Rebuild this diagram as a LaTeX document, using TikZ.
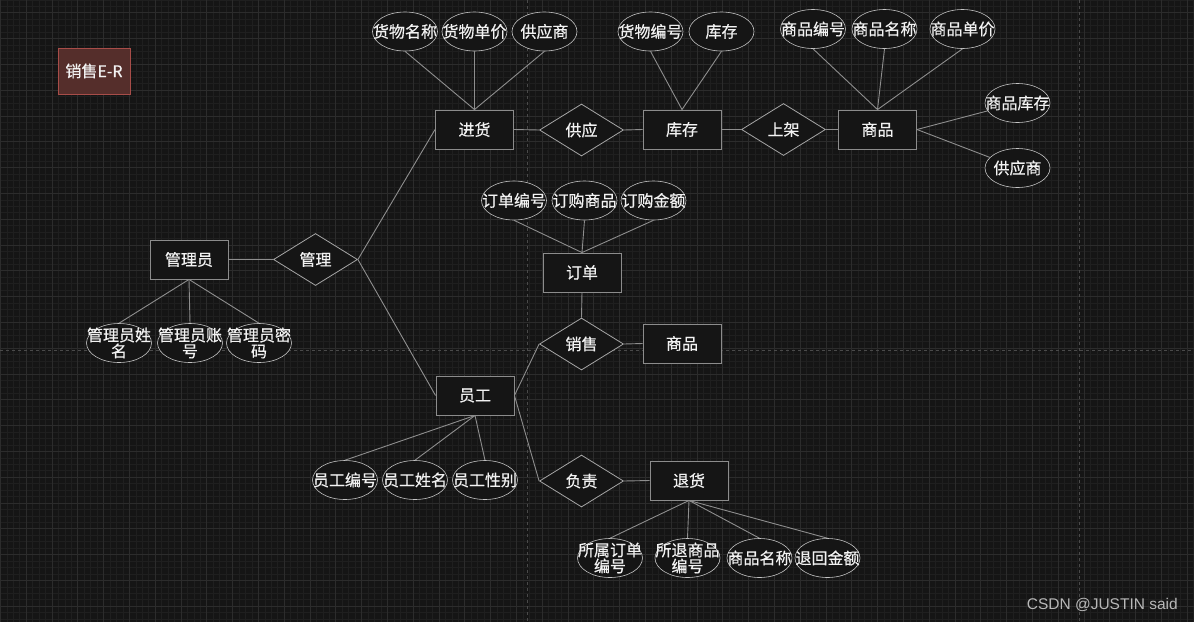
\documentclass[tikz,border=0pt]{standalone}
\usepackage{fontspec}
\setmainfont{Noto Sans CJK SC}[FakeBold=0.5]
\newfontfamily\wmfont{Liberation Sans}
\usetikzlibrary{shapes.geometric}
\definecolor{bg}{HTML}{151515}
\definecolor{minorg}{HTML}{1F1F1F}
\definecolor{majorg}{HTML}{2C2C2C}
\definecolor{pageline}{HTML}{4A4A4A}
\definecolor{edgec}{HTML}{8E8E8E}
\definecolor{entb}{HTML}{8C8C8C}
\definecolor{ellb}{HTML}{C4C4C4}
\definecolor{diab}{HTML}{A6A6A6}
\definecolor{txt}{HTML}{F2F2F2}
\definecolor{titlefill}{HTML}{552E2B}
\definecolor{titleb}{HTML}{A84D49}
\tikzset{
  base/.style={text=txt, font=\fontsize{16}{18}\selectfont, inner sep=0pt, align=center},
  lbl/.style={text=txt, font=\fontsize{16}{16}\selectfont, inner sep=0pt, align=center},
  entity/.style={base, rectangle, draw=entb, line width=0.9pt, fill=bg, minimum width=78pt, minimum height=39pt},
  rel/.style={base, diamond, draw=diab, line width=0.8pt, fill=bg, minimum width=84pt, minimum height=52pt},
  attr/.style={ellipse, draw=ellb, line width=0.6pt, fill=bg, inner sep=0pt, minimum width=65pt, minimum height=39pt, label={[lbl]center:#1}},
  conn/.style={draw=edgec, line width=0.9pt},
}
\begin{document}
\begin{tikzpicture}[x=1pt,y=-1pt]
\fill[bg] (0,0) rectangle (1194,622);
\useasboundingbox (0,0) rectangle (1194,622);
% grid
\foreach \i in {0,...,186} { \draw[minorg, line width=0.5pt] ({0.3+6.45*\i},0) -- ++(0,622); }
\foreach \i in {0,...,97} { \draw[minorg, line width=0.5pt] (0,{-0.2+6.45*\i}) -- ++(1194,0); }
\foreach \i in {0,...,46} { \draw[majorg, line width=0.7pt] ({0.3+25.8*\i},0) -- ++(0,622); }
\foreach \i in {0,...,24} { \draw[majorg, line width=0.7pt] (0,{12.7+25.8*\i}) -- ++(1194,0); }
% page break lines
\draw[pageline, dashed, line width=0.7pt] (527,0) -- (527,622);
\draw[pageline, dashed, line width=0.7pt] (1079,0) -- (1079,622);
\draw[pageline, dashed, line width=0.7pt] (0,350) -- (1194,350);

% title
\node[base, draw=titleb, fill=titlefill, line width=0.9pt, minimum width=72pt, minimum height=46pt] (title) at (94,71) {销售E-R};

% entities
\node[entity] (jh) at (474.5,129.5) {进货};
\node[entity] (kc) at (682,129.5) {库存};
\node[entity] (sp) at (877.5,129.5) {商品};
\node[entity] (gly) at (189,259.5) {管理员};
\node[entity] (dd) at (582,272.5) {订单};
\node[entity] (sp2) at (682,343.5) {商品};
\node[entity] (yg) at (475,395.5) {员工};
\node[entity] (th) at (689,480.5) {退货};

% relationships
\node[rel] (gy) at (581.5,130) {供应};
\node[rel] (sj) at (783.5,129.5) {上架};
\node[rel] (gl) at (315.5,259.5) {管理};
\node[rel] (xs) at (581.5,344) {销售};
\node[rel] (fz) at (581.5,481) {负责};

% attributes
\node[attr={货物名称}] (a1) at (405,31.5) {};
\node[attr={货物单价}] (a2) at (474.5,31.5) {};
\node[attr={供应商}] (a3) at (544.5,31.5) {};
\node[attr={货物编号}] (b1) at (650.5,31.5) {};
\node[attr={库存}] (b2) at (721.5,31.5) {};
\node[attr={商品编号}] (c1) at (813,29) {};
\node[attr={商品名称}] (c2) at (884.5,29) {};
\node[attr={商品单价}] (c3) at (962.5,29) {};
\node[attr={商品库存}] (c4) at (1017.5,103) {};
\node[attr={供应商}] (c5) at (1017.5,168) {};
\node[attr={订单编号}] (d1) at (514,200.5) {};
\node[attr={订购商品}] (d2) at (584.5,200.5) {};
\node[attr={订购金额}] (d3) at (653.5,200.5) {};
\node[attr={管理员姓\\名}] (g1) at (119,343) {};
\node[attr={管理员账\\号}] (g2) at (190,343) {};
\node[attr={管理员密\\码}] (g3) at (259,343) {};
\node[attr={员工编号}] (e1) at (345,480) {};
\node[attr={员工姓名}] (e2) at (415,480) {};
\node[attr={员工性别}] (e3) at (485,480) {};
\node[attr={所属订单\\编号}] (t1) at (610,558) {};
\node[attr={所退商品\\编号}] (t2) at (687.5,558) {};
\node[attr={商品名称}] (t3) at (759.5,558) {};
\node[attr={退回金额}] (t4) at (827.5,558) {};

% connectors
\draw[conn] (a1.south) -- (jh.north);
\draw[conn] (a2.south) -- (jh.north);
\draw[conn] (a3.south) -- (jh.north);
\draw[conn] (jh.east) -- (gy.west);
\draw[conn] (gy.east) -- (kc.west);
\draw[conn] (b1.south) -- (kc.north);
\draw[conn] (b2.south) -- (kc.north);
\draw[conn] (kc.east) -- (sj.west);
\draw[conn] (sj.east) -- (sp.west);
\draw[conn] (c1.south) -- (sp.north);
\draw[conn] (c2.south) -- (sp.north);
\draw[conn] (c3.south) -- (sp.north);
\draw[conn] (sp.east) -- (c4);
\draw[conn] (sp.east) -- (c5);
\draw[conn] (gly.east) -- (gl.west);
\draw[conn] (gl.east) -- (jh.west);
\draw[conn] (gl.east) -- (yg.west);
\draw[conn] (gly.south) -- (g1.north);
\draw[conn] (gly.south) -- (g2.north);
\draw[conn] (gly.south) -- (g3.north);
\draw[conn] (d1.south) -- (dd.north);
\draw[conn] (d2.south) -- (dd.north);
\draw[conn] (d3.south) -- (dd.north);
\draw[conn] (dd.south) -- (xs.north);
\draw[conn] (xs.east) -- (sp2.west);
\draw[conn] (yg.east) -- (xs.west);
\draw[conn] (yg.east) -- (fz.west);
\draw[conn] (fz.east) -- (th.west);
\draw[conn] (yg.south) -- (e1.north);
\draw[conn] (yg.south) -- (e2.north);
\draw[conn] (yg.south) -- (e3.north);
\draw[conn] (th.south) -- (t1.north);
\draw[conn] (th.south) -- (t2.north);
\draw[conn] (th.south) -- (t3.north);
\draw[conn] (th.south) -- (t4.north);

% watermark
\node[text=white!72!black, font=\wmfont\fontsize{15.5}{17}\selectfont, anchor=east, inner sep=0pt] (wm) at (1178,605) {CSDN @JUSTIN said};
\end{tikzpicture}
\end{document}
